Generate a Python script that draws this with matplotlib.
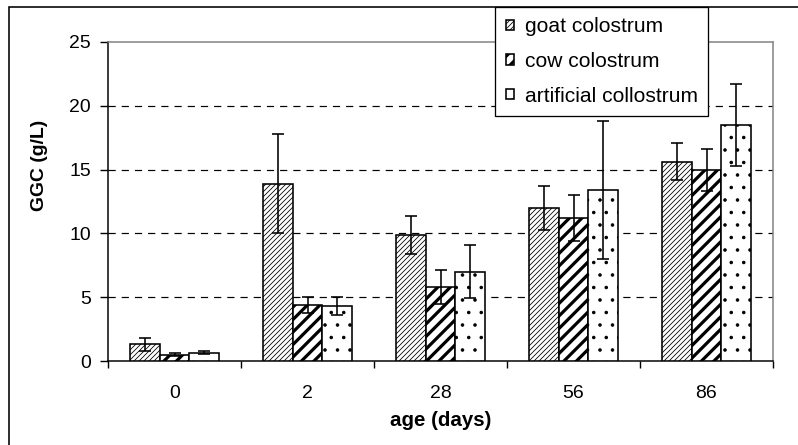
import matplotlib
matplotlib.use("Agg")
import matplotlib.pyplot as plt
from matplotlib.patches import Rectangle
import numpy as np

plt.rcParams["font.family"] = ["Liberation Sans", "DejaVu Sans"]

ages = ["0", "2", "28", "56", "86"]
series = ["goat colostrum", "cow colostrum", "artificial collostrum"]

goat = [1.3, 13.9, 9.9, 12.0, 15.6]
goat_err = [0.5, 3.9, 1.5, 1.7, 1.45]
cow = [0.5, 4.4, 5.8, 11.2, 15.0]
cow_err = [0.1, 0.6, 1.3, 1.8, 1.65]
art = [0.65, 4.3, 7.0, 13.4, 18.5]
art_err = [0.1, 0.7, 2.1, 5.4, 3.2]

# low dpi so the hatch tile gets coarser, closer to the original stripes
DPI = 75
W, H = 798, 445


def px(p):
    # pixel size -> points at this dpi
    return p * 72 / DPI


fig = plt.figure(figsize=(W / DPI, H / DPI), dpi=DPI)
ax = fig.add_axes([108 / W, 1 - 361 / H, 665 / W, 319 / H])

x = np.arange(len(ages))
w = 0.225
hatches = ["/////", "//", "."]
hatch_lw = [px(0.8), px(3.2), px(1.0)]

handles = []
for i, (vals, errs) in enumerate([(goat, goat_err), (cow, cow_err), (art, art_err)]):
    bars = ax.bar(x + (i - 1) * w, vals, w, color="white", edgecolor="black",
                  linewidth=px(1.6), hatch=hatches[i], zorder=3, label=series[i])
    for b in bars:
        if hasattr(b, "set_hatch_linewidth"):
            b.set_hatch_linewidth(hatch_lw[i])
    ax.errorbar(x + (i - 1) * w, vals, yerr=errs, fmt="none", ecolor="black",
                elinewidth=px(1.6), capsize=px(6), capthick=px(1.6), zorder=4)
    handles.append(bars)

ax.set_xlim(-0.5, 4.5)
ax.set_ylim(0, 25)
ax.set_yticks([0, 5, 10, 15, 20, 25])
ax.set_xticks(x)
ax.set_xticklabels(ages)
ax.set_xticks(np.arange(-0.5, 5, 1), minor=True)
ax.tick_params(axis="x", which="major", length=0, labelsize=px(19.4), pad=px(24))
ax.tick_params(axis="x", which="minor", length=px(7), width=px(1.4), direction="out")
ax.tick_params(axis="y", length=px(8), width=px(1.4), labelsize=px(19.4), pad=px(9))

for yv in [5, 10, 15, 20]:
    ax.axhline(yv, color="black", linewidth=px(1.2), linestyle=(0, (6, 5)), zorder=1)

for side in ["left", "bottom"]:
    ax.spines[side].set_color("black")
    ax.spines[side].set_linewidth(px(1.5))
for side in ["top", "right"]:
    ax.spines[side].set_color("#808080")
    ax.spines[side].set_linewidth(px(1.5))

ax.set_ylabel("GGC (g/L)", fontsize=px(19.4), fontweight="bold")
ax.yaxis.set_label_coords(-0.090, 0.614)
ax.set_xlabel("age (days)", fontsize=px(20.5), fontweight="bold", labelpad=px(9))

leg = fig.legend(handles=handles, labels=series, loc="upper left",
                 bbox_to_anchor=(495 / W, 1 - 7 / H), fontsize=px(21),
                 handlelength=0.4, handleheight=0.4, handletextpad=0.52,
                 labelspacing=0.74, borderpad=0.5, borderaxespad=0,
                 fancybox=False, framealpha=1, edgecolor="black")
leg.get_frame().set_linewidth(px(1.3))
for p, lw in zip(leg.get_patches(), [px(0.8), px(3.0), px(1.0)]):
    if hasattr(p, "set_hatch_linewidth"):
        p.set_hatch_linewidth(lw)

# outer chart frame, only its left and top edges are inside the crop
fig.add_artist(Rectangle((9 / W, -0.1), 1.2, 1.1 - 7 / H,
                         transform=fig.transFigure, fill=False,
                         edgecolor="black", linewidth=px(1.6), zorder=10))

fig.savefig("out.png", dpi=DPI)
